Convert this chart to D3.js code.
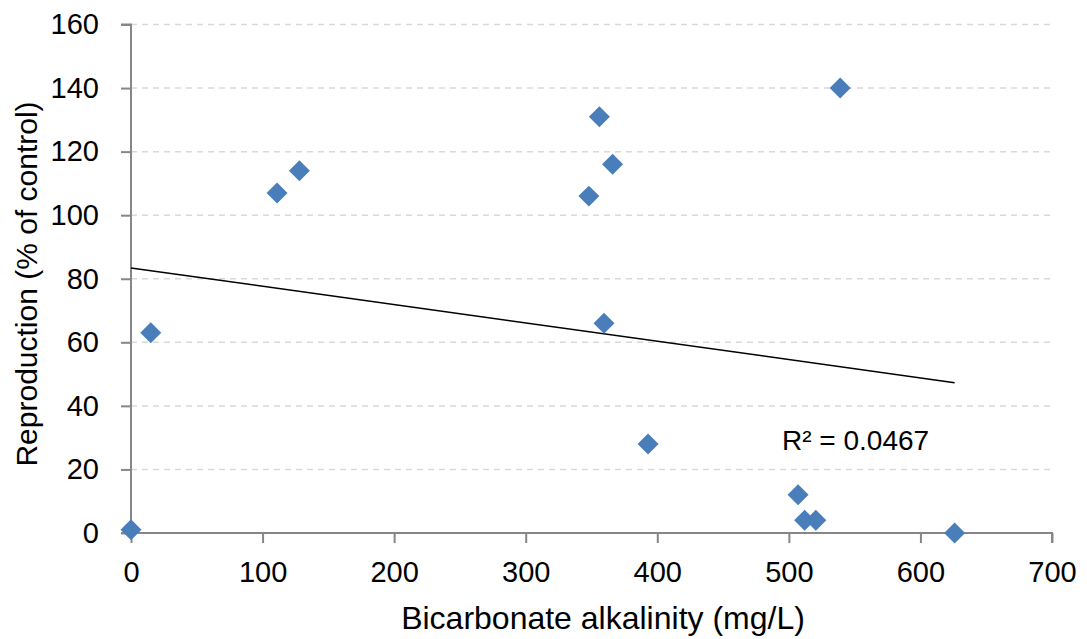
<!DOCTYPE html>
<html>
<head>
<meta charset="utf-8">
<script src="https://cdn.jsdelivr.net/npm/d3@7"></script>
<style>
  html, body { margin: 0; padding: 0; background: #fff; }
  svg { display: block; font-family: "Liberation Sans", Arial, sans-serif; }
</style>
</head>
<body>
<svg id="chart" width="1087" height="639"></svg>
<script>
// Bicarbonate alkalinity (mg/L) against reproduction (% of control)
const alkalinity   = [0, 15, 111, 128, 348, 356, 366, 359.5, 393, 539, 507, 512, 520.5, 626];
const reproduction = [1, 63, 107, 114, 106, 131, 116, 66, 28, 140, 12, 4, 4, 0];
const xTicks = [0, 100, 200, 300, 400, 500, 600, 700];
const yTicks = [0, 20, 40, 60, 80, 100, 120, 140, 160];
const rSquaredLabel = "R² = 0.0467";

const svg = d3.select("#chart");
const margin = { left: 131, right: 35, top: 24.5, bottom: 106 };
const W = 1087, H = 639;

const x = d3.scaleLinear().domain([0, 700]).range([margin.left, W - margin.right]);
const y = d3.scaleLinear().domain([0, 160]).range([H - margin.bottom, margin.top]);

// horizontal dashed gridlines
svg.append("g")
  .selectAll("line")
  .data(yTicks.filter(d => d > 0))
  .join("line")
  .attr("x1", x(0)).attr("x2", x(700))
  .attr("y1", d => y(d)).attr("y2", d => y(d))
  .attr("stroke", "#d9d9d9")
  .attr("stroke-width", 1.5)
  .attr("stroke-dasharray", "6,5");

// axes
const axisColor = "#868686";
const xAxis = svg.append("g")
  .attr("transform", `translate(0,${y(0)})`)
  .call(d3.axisBottom(x).tickValues(xTicks).tickSize(10).tickPadding(18).tickFormat(d3.format("d")));
const yAxis = svg.append("g")
  .attr("transform", `translate(${x(0)},0)`)
  .call(d3.axisLeft(y).tickValues(yTicks).tickSize(10).tickPadding(22).tickFormat(d3.format("d")));

[xAxis, yAxis].forEach(g => {
  g.select(".domain").attr("stroke", axisColor).attr("stroke-width", 2);
  g.selectAll(".tick line").attr("stroke", axisColor).attr("stroke-width", 2);
  g.selectAll(".tick text").attr("fill", "#000").style("font-size", "29px");
});
xAxis.select(".domain").attr("d", `M${x(0)},0H${x(700)}V10`);
yAxis.select(".domain").attr("d", `M-10,${y(160)}H0V${y(0)}H-10`);

// least-squares trendline
const n = alkalinity.length;
const mx = d3.mean(alkalinity), my = d3.mean(reproduction);
let sxy = 0, sxx = 0;
for (let i = 0; i < n; i++) {
  sxy += (alkalinity[i] - mx) * (reproduction[i] - my);
  sxx += (alkalinity[i] - mx) ** 2;
}
const slope = sxy / sxx, intercept = my - slope * mx;
const xEnd = d3.max(alkalinity);
svg.append("line")
  .attr("x1", x(0)).attr("y1", y(intercept))
  .attr("x2", x(xEnd)).attr("y2", y(intercept + slope * xEnd))
  .attr("stroke", "#000").attr("stroke-width", 1.5);

// diamond markers
const diamond = d3.symbol().type(d3.symbolSquare).size(220);
svg.append("g")
  .selectAll("path")
  .data(alkalinity.map((a, i) => [a, reproduction[i]]))
  .join("path")
  .attr("d", diamond)
  .attr("transform", d => `translate(${x(d[0])},${y(d[1])}) rotate(45)`)
  .attr("fill", "#4a7ebb");

// R² annotation
svg.append("text")
  .attr("x", 782).attr("y", 450)
  .style("font-size", "28px")
  .text(rSquaredLabel);

// axis titles
svg.append("text")
  .attr("x", 603).attr("y", 629)
  .attr("text-anchor", "middle")
  .style("font-size", "32px")
  .text("Bicarbonate alkalinity (mg/L)");
svg.append("text")
  .attr("transform", "translate(37,284) rotate(-90)")
  .attr("text-anchor", "middle")
  .style("font-size", "30px")
  .text("Reproduction (% of control)");
</script>
</body>
</html>
